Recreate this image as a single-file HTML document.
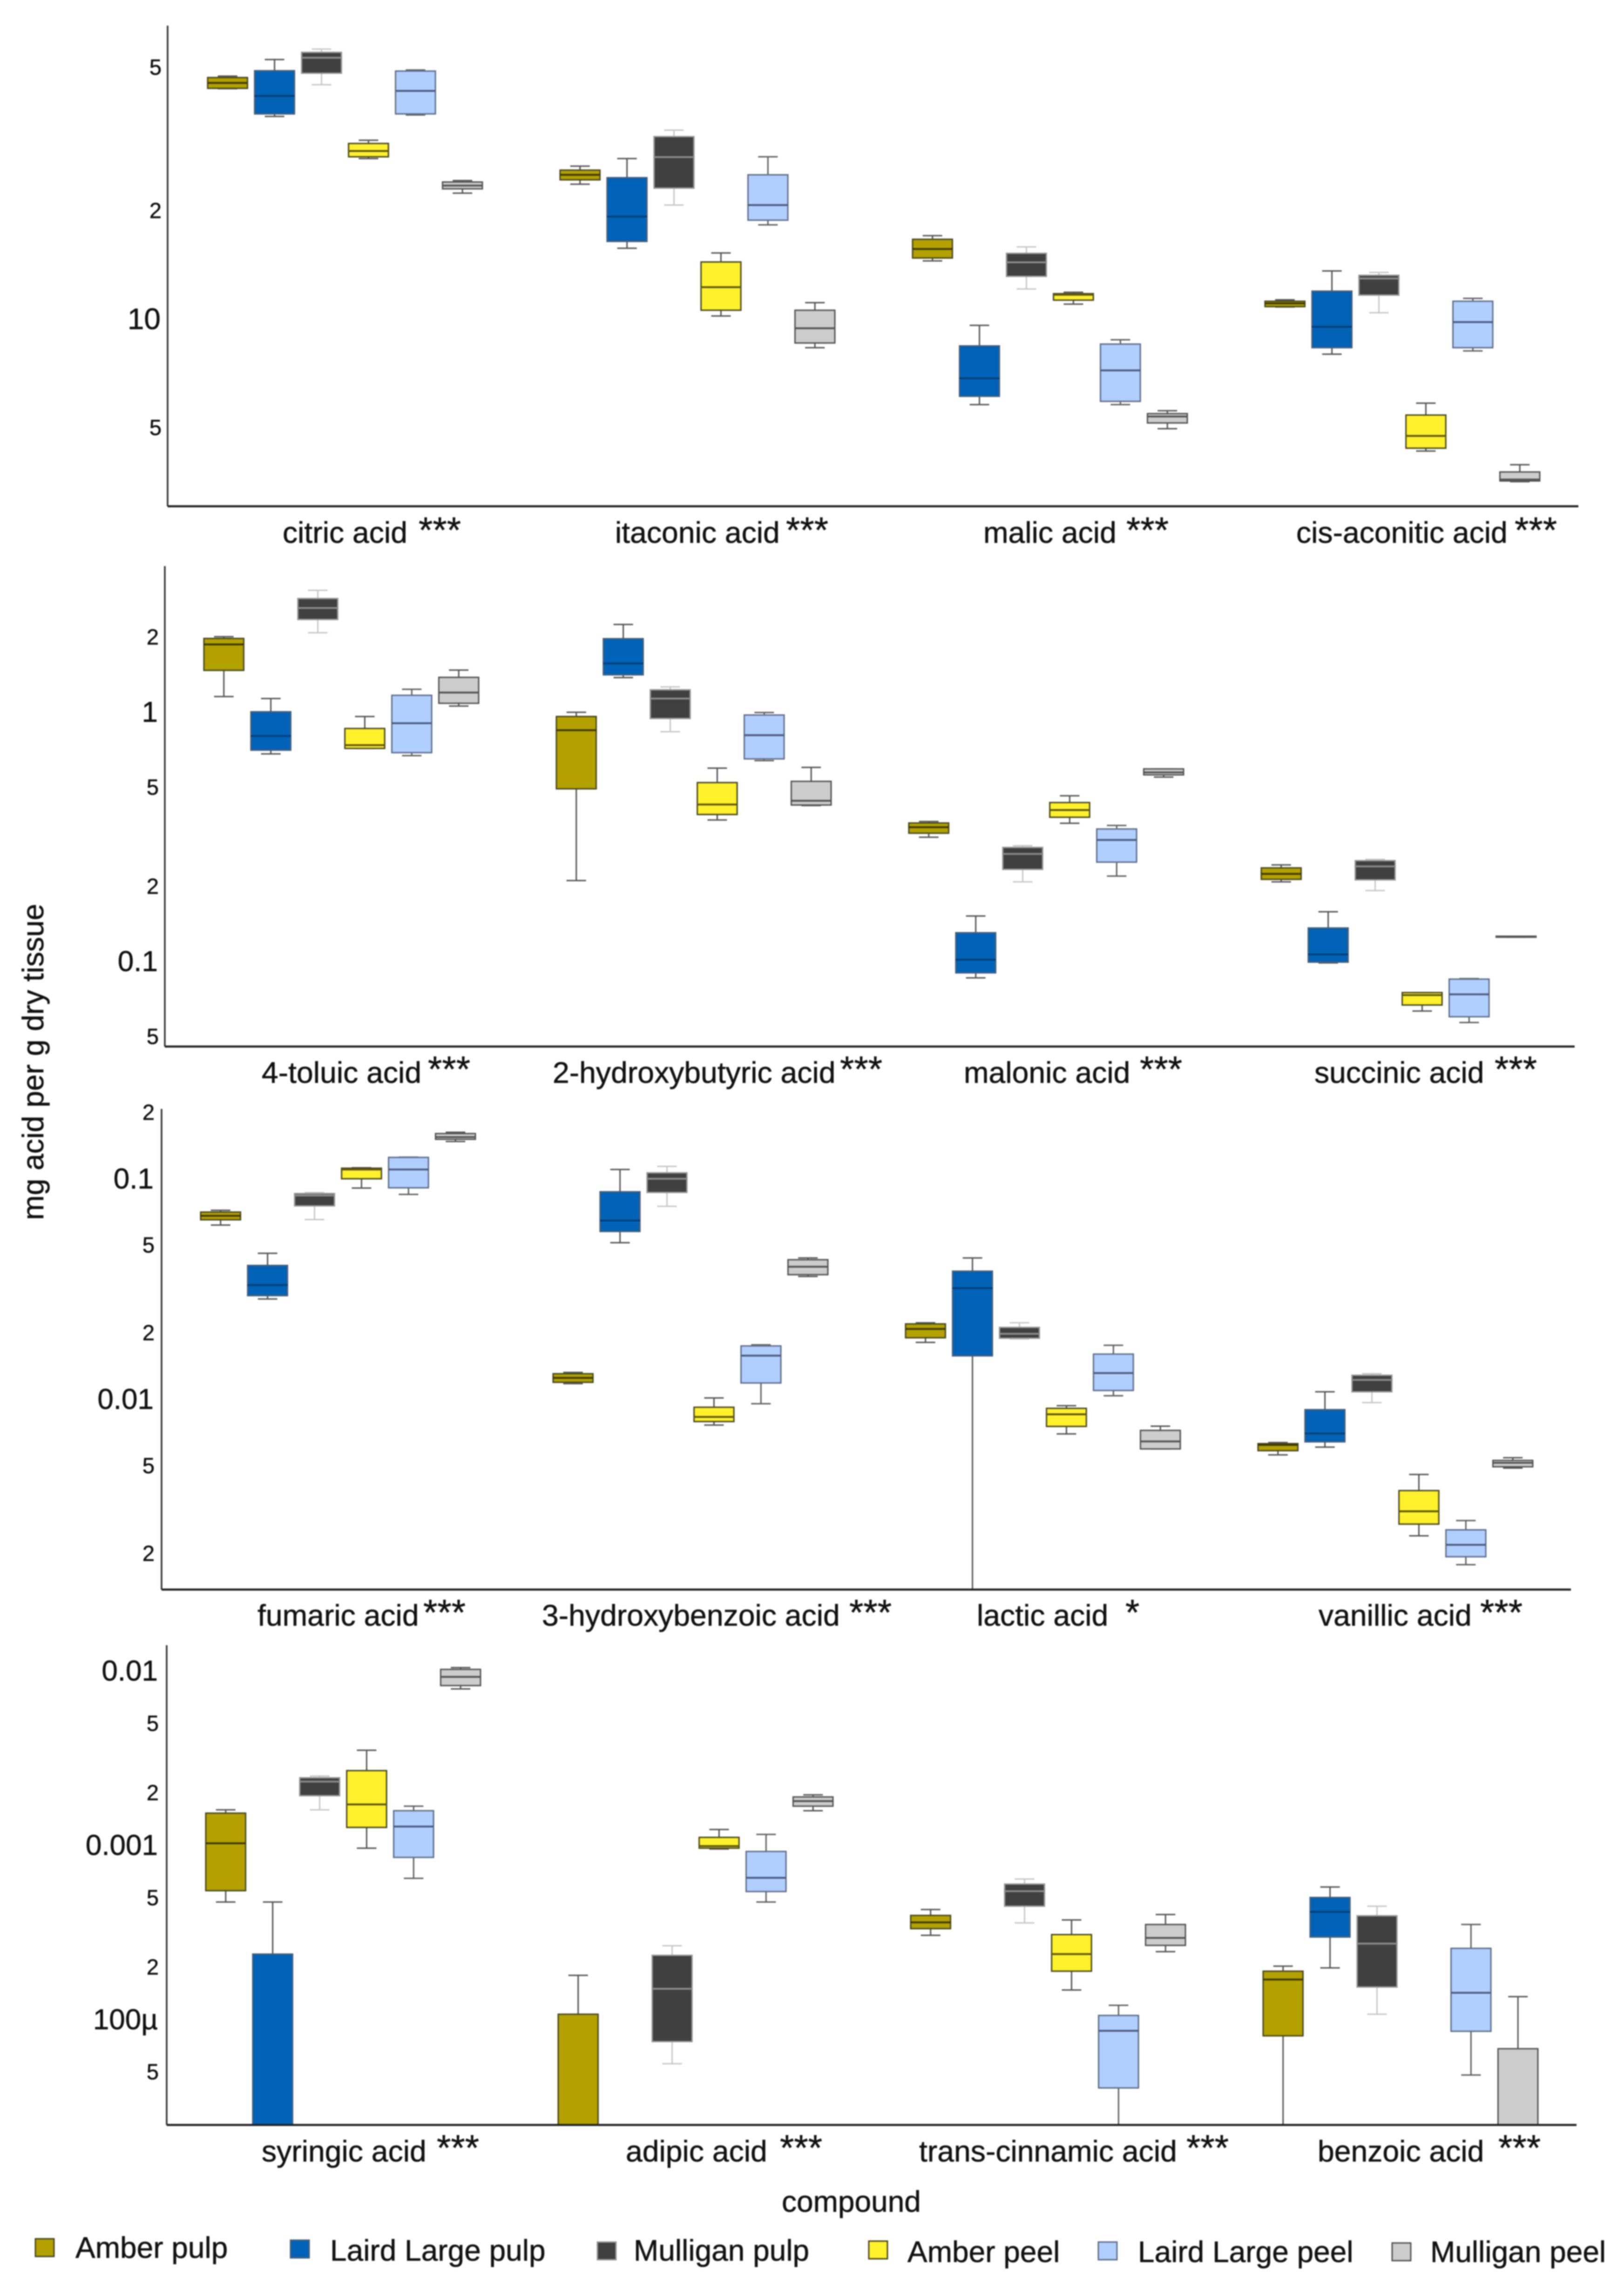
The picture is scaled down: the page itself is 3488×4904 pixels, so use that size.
<!DOCTYPE html>
<html lang="en">
<head>
<meta charset="utf-8">
<title>Organic acid concentrations by compound</title>
<style>
html,body{margin:0;padding:0;background:#fff;width:3488px;height:4904px;overflow:hidden}
svg{display:block;filter:blur(1.3px)}
text{font-family:"Liberation Sans",Arial,sans-serif;fill:#111;stroke:#111;stroke-width:.6px}
</style>
</head>
<body>
<svg id="chart" xmlns="http://www.w3.org/2000/svg" width="3488" height="4904" viewBox="0 0 3488 4904">
<rect width="3488" height="4904" fill="#fff"/>
<text transform="translate(93,2281) rotate(-90)" text-anchor="middle" font-size="64">mg acid per g dry tissue</text>
<text x="1679" y="4751" font-size="64">compound</text>
</svg>
<script>
// Each box: [whisker low, q1, median, q3, whisker high]; null = no box in range.
const groupNames = ["Amber pulp","Laird Large pulp","Mulligan pulp","Amber peel","Laird Large peel","Mulligan peel"];

const citricAcid = [[1.641,1.642,1.657,1.672,1.676],[1.564,1.571,1.621,1.691,1.722],[1.652,1.684,1.727,1.742,1.751],[1.447,1.452,1.468,1.489,1.498],[1.568,1.571,1.635,1.690,1.693],[1.351,1.363,1.372,1.382,1.386]];
const itaconicAcid = [[1.376,1.388,1.402,1.415,1.426],[1.198,1.217,1.286,1.394,1.447],[1.318,1.365,1.451,1.508,1.526],[1.010,1.026,1.090,1.160,1.185],[1.263,1.276,1.318,1.402,1.452],[0.922,0.935,0.976,1.026,1.047]];
const malicAcid = [[1.163,1.171,1.196,1.223,1.233],[0.764,0.787,0.837,0.927,0.984],[1.085,1.120,1.159,1.184,1.202],[1.043,1.054,1.069,1.072,1.076],[0.764,0.773,0.859,0.932,0.944],[0.697,0.713,0.731,0.739,0.747]];
const cisAconiticAcid = [[1.035,1.036,1.045,1.051,1.055],[0.904,0.922,0.980,1.079,1.135],[1.019,1.068,1.114,1.123,1.131],[0.635,0.643,0.677,0.735,0.768],[0.913,0.922,0.993,1.051,1.059],[0.550,0.552,0.556,0.577,0.597]];

const toluicAcid = [[0.064,0.169,0.273,0.297,0.304],[-0.166,-0.151,-0.094,0.003,0.056],[0.320,0.373,0.419,0.457,0.490],[-0.144,-0.144,-0.131,-0.064,-0.016],[-0.173,-0.161,-0.043,0.069,0.093],[0.026,0.037,0.080,0.141,0.170]];
const hydroxybutyricAcid = [[-0.674,-0.306,-0.071,-0.016,0.001],[0.140,0.151,0.197,0.296,0.353],[-0.077,-0.024,0.056,0.091,0.103],[-0.431,-0.409,-0.369,-0.281,-0.223],[-0.193,-0.186,-0.091,-0.010,0.000],[-0.373,-0.371,-0.354,-0.276,-0.220]];
const malonicAcid = [[-0.500,-0.484,-0.460,-0.443,-0.437],[-1.064,-1.044,-0.991,-0.883,-0.816],[-0.679,-0.629,-0.567,-0.541,-0.534],[-0.444,-0.420,-0.391,-0.361,-0.334],[-0.656,-0.600,-0.511,-0.467,-0.453],[-0.259,-0.250,-0.240,-0.226,-0.226]];
const succinicAcid = [[-0.679,-0.669,-0.647,-0.623,-0.611],[-1.004,-1.001,-0.970,-0.864,-0.799],[-0.714,-0.671,-0.617,-0.594,-0.589],[-1.197,-1.173,-1.133,-1.123,-1.123],[-1.243,-1.220,-1.130,-1.069,-1.067],[-0.901,-0.901,-0.899,-0.897,-0.897]];

const fumaricAcid = [[-1.208,-1.184,-1.166,-1.149,-1.141],[-1.543,-1.528,-1.480,-1.391,-1.336],[-1.183,-1.121,-1.074,-1.065,-1.061],[-1.040,-0.998,-0.956,-0.950,-0.948],[-1.069,-1.039,-0.956,-0.901,-0.900],[-0.829,-0.819,-0.809,-0.793,-0.787]];
const hydroxybenzoicAcid = [[-1.927,-1.921,-1.901,-1.882,-1.876],[-1.288,-1.237,-1.187,-1.057,-0.956],[-1.123,-1.060,-0.998,-0.971,-0.942],[-2.115,-2.099,-2.078,-2.034,-1.992],[-2.018,-1.924,-1.800,-1.756,-1.751],[-1.441,-1.433,-1.397,-1.365,-1.357]];
const lacticAcid = [[-1.740,-1.719,-1.679,-1.656,-1.651],[-3.200,-1.801,-1.494,-1.417,-1.357],[-1.724,-1.721,-1.701,-1.672,-1.651],[-2.155,-2.121,-2.066,-2.039,-2.027],[-1.982,-1.958,-1.879,-1.793,-1.753],[-2.223,-2.223,-2.189,-2.139,-2.120]];
const vanillicAcid = [[-2.250,-2.231,-2.205,-2.199,-2.194],[-2.215,-2.191,-2.153,-2.045,-1.964],[-2.013,-1.964,-1.910,-1.889,-1.882],[-2.617,-2.564,-2.506,-2.412,-2.339],[-2.748,-2.712,-2.658,-2.590,-2.548],[-2.310,-2.304,-2.286,-2.275,-2.263]];

const syringicAcid = [[-3.323,-3.258,-2.986,-2.813,-2.794],[-5.000,-4.900,-4.800,-3.622,-3.323],[-2.794,-2.713,-2.632,-2.610,-2.600],[-3.014,-2.895,-2.763,-2.569,-2.452],[-3.187,-3.067,-2.890,-2.799,-2.773],[-2.100,-2.081,-2.031,-1.988,-1.978]];
const adipicAcid = [[-5.000,-4.900,-4.800,-3.967,-3.744],null,[-4.251,-4.124,-3.821,-3.629,-3.574],[-3.019,-3.014,-3.002,-2.952,-2.907],[-3.323,-3.263,-3.184,-3.033,-2.935],[-2.799,-2.773,-2.744,-2.720,-2.708]];
const transCinnamicAcid = [[-3.514,-3.476,-3.440,-3.400,-3.366],null,[-3.443,-3.347,-3.261,-3.220,-3.191],[-3.828,-3.720,-3.622,-3.510,-3.426],[-5.000,-4.390,-4.062,-3.974,-3.916],[-3.608,-3.572,-3.529,-3.452,-3.395]];
const benzoicAcid = [[-5.000,-4.091,-3.768,-3.720,-3.691],[-3.701,-3.524,-3.380,-3.297,-3.237],[-3.967,-3.811,-3.562,-3.402,-3.347],null,[-4.316,-4.065,-3.844,-3.589,-3.452],[-5.000,-4.900,-4.800,-4.165,-3.866]];

const categories1 = ["citric acid","itaconic acid","malic acid","cis-aconitic acid"];
const categories2 = ["4-toluic acid","2-hydroxybutyric acid","malonic acid","succinic acid"];
const categories3 = ["fumaric acid","3-hydroxybenzoic acid","lactic acid","vanillic acid"];
const categories4 = ["syringic acid","adipic acid","trans-cinnamic acid","benzoic acid"];

const significance1 = ["***","***","***","***"];
const significance2 = ["***","***","***","***"];
const significance3 = ["***","***","*","***"];
const significance4 = ["***","***","***","***"];

const tickValues1 = [50,20,10,5];
const tickLabels1 = ["5","2","10","5"];
const tickValues2 = [2,1,0.5,0.2,0.1,0.05];
const tickLabels2 = ["2","1","5","2","0.1","5"];
const tickValues3 = [0.2,0.1,0.05,0.02,0.01,0.005,0.002];
const tickLabels3 = ["2","0.1","5","2","0.01","5","2"];
const tickValues4 = [0.01,0.005,0.002,0.001,0.0005,0.0002,0.0001,0.00005];
const tickLabels4 = ["0.01","5","2","0.001","5","2","100µ","5"];

const series1 = [citricAcid,itaconicAcid,malicAcid,cisAconiticAcid];
const series2 = [toluicAcid,hydroxybutyricAcid,malonicAcid,succinicAcid];
const series3 = [fumaricAcid,hydroxybenzoicAcid,lacticAcid,vanillicAcid];
const series4 = [syringicAcid,adipicAcid,transCinnamicAcid,benzoicAcid];

// ---------- layout (not data) ----------
const fills = ["#b3a100","#0063b8","#404040","#fff12b","#b0cfff","#cccccc"];
const strokes = ["#4a4a20","#4a5f78","#999","#4a4a20","#5f6f8a","#555"];
const medians = ["#3f3900","#043f78","#8a8a8a","#5e5710","#4c5c7c","#555"];
const whiskers = ["#555","#555","#c8c8c8","#555","#606060","#555"];

const layouts = [
 {key:"top",categories:categories1,marks:series1,stars:significance1,ticks:tickValues1,labels:tickLabels1,refLog:1,refY:686.5,decade:773.7,left:360,right:3390,top:55,bottom:1087.5,first:741,tickRight:345,big:64,base:1166,starBase:1165,textX:[607,1321,2112,2784],starX:[899,1688,2419,3253]},
 {key:"second",categories:categories2,marks:series2,stars:significance2,ticks:tickValues2,labels:tickLabels2,refLog:0,refY:1530.5,decade:535.7,left:354,right:3382,top:1216,bottom:2248,first:733,tickRight:339,big:62,base:2326,starBase:2323,textX:[562,1187,2070,2823],starX:[919,1804,2448,3210]},
 {key:"third",categories:categories3,marks:series3,stars:significance3,ticks:tickValues3,labels:tickLabels3,refLog:-1,refY:2533,decade:473.7,left:347,right:3374,top:2382,bottom:3414.5,first:726,tickRight:330,big:62,base:3492,starBase:3490,textX:[553,1164,2098,2832],starX:[909,1824,2417,3179]},
 {key:"bottom",categories:categories4,marks:series4,stars:significance4,ticks:tickValues4,labels:tickLabels4,refLog:-2,refY:3590.4,decade:374.3,left:358,right:3386,top:3534,bottom:4564.5,first:737,tickRight:339,big:62,base:4643,starBase:4640,textX:[562,1344,1974,2830],starX:[938,1675,2548,3218]}
];
const clusterStep = 757, groupStep = 100.9, boxWidth = 85.6, capWidth = 42;

const legendSwatchX = [76,624,1283,1866,2359,2990];
const legendSwatchY = [4809,4812,4816,4814,4816,4818];
const legendTextX = [162,709,1361,1949,2444,3072];
const legendBase = [4850,4856,4856,4859,4859,4859];

const NS = "http://www.w3.org/2000/svg";
const svg = document.getElementById("chart");
function make(tag, parent, attrs) {
  const el = document.createElementNS(NS, tag);
  for (const k in attrs) el.setAttribute(k, attrs[k]);
  parent.appendChild(el);
  return el;
}

layouts.forEach(function (p, pi) {
  const yOf = function (log) { return p.refY - p.decade * (log - p.refLog); };
  const xOf = function (c, g) { return p.first + c * clusterStep + (g - 2.5) * groupStep; };

  const panel = make("g", svg, {});
  
  

  const clip = make("clipPath", panel, {id: "clip" + pi});
  make("rect", clip, {x: p.left, y: p.top, width: p.right - p.left, height: p.bottom - p.top});

  const plot = make("g", panel, {"clip-path": "url(#clip" + pi + ")"});
  
  

  p.marks.forEach(function (boxes, c) {
    boxes.forEach(function (b, g) {
      if (!b) return;
      const x = xOf(c, g);
      const box = make("g", plot, {});
      
      
      const wc = {stroke: whiskers[g], "stroke-width": 3, fill: "none"};
      const lowLine = make("line", box, Object.assign({x1: x, x2: x, y1: yOf(b[1]), y2: yOf(b[0])}, wc));
      
      
      const highLine = make("line", box, Object.assign({x1: x, x2: x, y1: yOf(b[3]), y2: yOf(b[4])}, wc));
      
      
      const lowCap = make("line", box, Object.assign({x1: x - capWidth / 2, x2: x + capWidth / 2, y1: yOf(b[0]), y2: yOf(b[0])}, wc));
      
      
      const highCap = make("line", box, Object.assign({x1: x - capWidth / 2, x2: x + capWidth / 2, y1: yOf(b[4]), y2: yOf(b[4])}, wc));
      
      
      const rect = make("rect", box, {x: x - boxWidth / 2, y: yOf(b[3]), width: boxWidth, height: yOf(b[1]) - yOf(b[3]), fill: fills[g], stroke: strokes[g], "stroke-width": 3});
      
      
      const med = make("line", box, {x1: x - boxWidth / 2, x2: x + boxWidth / 2, y1: yOf(b[2]), y2: yOf(b[2]), stroke: medians[g], "stroke-width": 4});
      
      
    });
  });

  const yAxis = make("line", panel, {x1: p.left, x2: p.left, y1: p.top, y2: p.bottom, stroke: "#333", "stroke-width": 3.5});
  
  
  const xAxis = make("line", panel, {x1: p.left, x2: p.right, y1: p.bottom, y2: p.bottom, stroke: "#222", "stroke-width": 4.5});
  
  

  p.ticks.forEach(function (v, i) {
    const label = p.labels[i];
    const major = label.length > 1 || label === "1";
    const size = major ? p.big : 47;
    const t = make("text", panel, {x: p.tickRight + (major ? 0 : 2), y: yOf(Math.log10(v)) + size * 0.32, "text-anchor": "end", "font-size": size});
    
    
    t.textContent = label;
  });

  p.categories.forEach(function (name, c) {
    const t = make("text", panel, {x: p.textX[c], y: p.base, "font-size": 64.3});
    
    
    t.textContent = name;
    const s = make("text", panel, {x: p.starX[c], y: p.starBase, "font-size": 78});
    
    
    s.textContent = p.stars[c];
  });
});

const legend = make("g", svg, {});


groupNames.forEach(function (name, g) {
  const entry = make("g", legend, {});
  
  
  const sw = make("rect", entry, {x: legendSwatchX[g], y: legendSwatchY[g], width: 40, height: 38, fill: fills[g], stroke: strokes[g], "stroke-width": 3});
  
  
  const t = make("text", entry, {x: legendTextX[g], y: legendBase[g], "font-size": 64});
  
  
  t.textContent = name;
});
</script>
</body>
</html>
